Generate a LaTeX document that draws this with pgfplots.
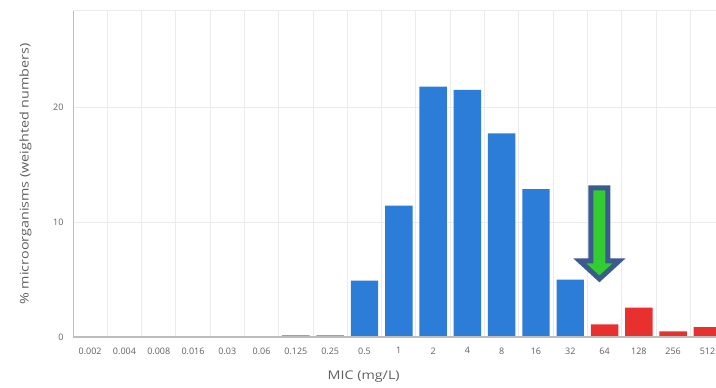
\documentclass[border=0pt]{standalone}
\usepackage{pgfplots}
\pgfplotsset{compat=1.18}
\usepackage{fontspec}
\setmainfont{Open Sans}

\definecolor{barblue}{HTML}{2B7DD8}
\definecolor{barred}{HTML}{E8302E}
\definecolor{txtgray}{HTML}{5F5F5F}
\definecolor{gridgray}{HTML}{EBEBEB}
\definecolor{axisgray}{HTML}{BDBDBD}
\definecolor{arrowgreen}{HTML}{33CC33}
\definecolor{arrowedge}{HTML}{3B5B8C}

\newcommand{\widen}[1]{\scalebox{1.2}[1]{#1}}

\begin{document}
\begin{tikzpicture}[x=1bp,y=1bp]
\useasboundingbox (0,0) rectangle (716,387);
\begin{axis}[
  at={(73bp,50bp)}, anchor=south west,
  scale only axis,
  width=643bp, height=326bp,
  xmin=-0.5, xmax=18.25,
  ymin=0, ymax=28.35,
  ybar, bar width=0.8, bar shift=0pt,
  xtick={0,...,18},
  xticklabels={0.002,0.004,0.008,0.016,0.03,0.06,0.125,0.25,0.5,1,2,4,8,16,32,64,128,256,512},
  minor xtick={0.5,1.5,...,17.5},
  ytick={0,10,20},
  /pgf/number format/assume math mode=true,
  major tick length=0pt, minor tick length=0pt,
  xmajorgrids=false, xminorgrids=true, ymajorgrids=true,
  minor grid style={gridgray, line width=1bp},
  major grid style={gridgray, line width=1bp},
  axis line style={draw=none},
  tick label style={font=\fontsize{9}{10}\selectfont, text=txtgray},
  xticklabel style={yshift=-7bp},
  yticklabel style={xshift=-6bp},
  xlabel={\widen{MIC (mg/L)}},
  ylabel={\widen{\% microorganisms (weighted numbers)}},
  label style={font=\fontsize{12}{14}\selectfont, text=txtgray},
  xlabel style={at={(axis description cs:0.452,0)}, anchor=north, yshift=-30bp},
  ylabel style={at={(rel axis cs:0,0.5)}, anchor=south, yshift=38bp},
  clip=true,
]
% susceptible part of the distribution
\addplot[fill=barblue, draw=none] coordinates {
  (6,0.15) (7,0.15) (8,4.9) (9,11.42) (10,21.77) (11,21.48)
  (12,17.71) (13,12.87) (14,4.98)
};
% resistant part above the breakpoint
\addplot[fill=barred, draw=none] coordinates {
  (15,1.1) (16,2.55) (17,0.5) (18,0.85)
};
% frame lines
\draw[axisgray, line width=1.2bp] (rel axis cs:0,0) -- (rel axis cs:0,1);
\draw[axisgray, line width=1.2bp] (rel axis cs:0,0) -- (rel axis cs:1,0);
\draw[gridgray, line width=1bp] (rel axis cs:0,1) -- (rel axis cs:1,1);
% breakpoint arrow
\draw[arrowedge, line width=5bp, fill=arrowgreen, line join=miter]
  (axis cs:14.60,12.96) -- (axis cs:15.10,12.96) -- (axis cs:15.10,6.61)
  -- (axis cs:15.42,6.61) -- (axis cs:14.85,5.05) -- (axis cs:14.28,6.61)
  -- (axis cs:14.60,6.61) -- cycle;
\end{axis}
\end{tikzpicture}
\end{document}
